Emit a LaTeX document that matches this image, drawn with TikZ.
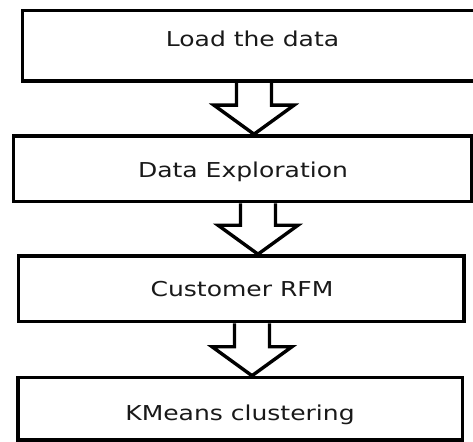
\documentclass[tikz,border=0pt]{standalone}
\usepackage{fontspec}
\setmainfont{DejaVu Sans}
\usetikzlibrary{calc}
\tikzset{
  box/.style={draw=black, line width=3.6pt, fill=white, inner sep=0pt},
  lbl/.style={anchor=base, inner sep=0pt, font=\fontsize{20.5pt}{23pt}\selectfont, text=black!90},
  blockarrow/.style={draw=black, line width=3.4pt, line join=miter}
}
\newcommand\blockarr[3]{%
  \draw[blockarrow] let \p1=(#1.south), \p2=(#2.north) in
    ({#3pt-17.5pt},\y1) -- ({#3pt-17.5pt},{\y2+29pt}) -- ({#3pt-40pt},{\y2+29pt})
    -- ({#3pt},\y2) -- ({#3pt+40pt},{\y2+29pt}) -- ({#3pt+17.5pt},{\y2+29pt})
    -- ({#3pt+17.5pt},\y1);}
\begin{document}
\begin{tikzpicture}[x=1pt,y=-1pt]
\clip (0,0) rectangle (473,441);
\fill[white] (0,0) rectangle (473,441);
\node[box, minimum width=460pt, minimum height=70.5pt] (n1) at (252.5,45.75) {};
\node[box, minimum width=458pt, minimum height=65.5pt] (n2) at (242.5,168.75) {};
\node[box, minimum width=445.5pt, minimum height=65.5pt] (n3) at (241.25,288.75) {};
\node[box, minimum width=444.5pt, minimum height=62.5pt] (n4) at (240.25,408.75) {};
\blockarr{n1}{n2}{254}
\blockarr{n2}{n3}{258}
\blockarr{n3}{n4}{252}
\node[lbl] (l1) at (252.5,46.7) {\scalebox{1.22}[1]{Load the data}};
\node[lbl] (l2) at (243,177.3) {\scalebox{1.22}[1]{Data Exploration}};
\node[lbl] (l3) at (242,296.7) {\scalebox{1.22}[1]{Customer RFM}};
\node[lbl] (l4) at (240,420) {\scalebox{1.22}[1]{KMeans clustering}};
\end{tikzpicture}
\end{document}
